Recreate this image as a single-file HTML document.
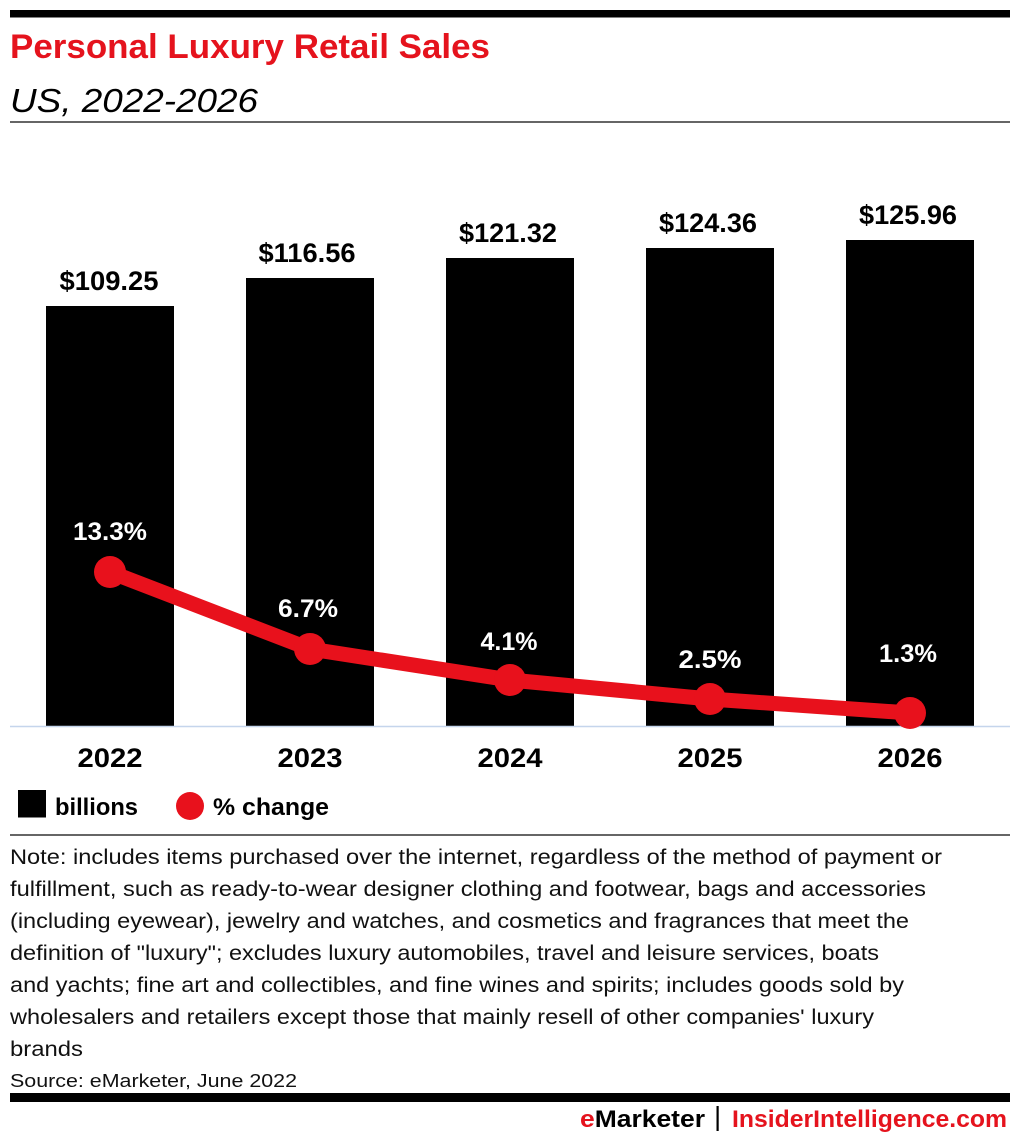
<!DOCTYPE html>
<html><head><meta charset="utf-8"><style>
html,body{margin:0;padding:0;background:#fff;}
svg{display:block;}
text{font-family:"Liberation Sans",Arial,sans-serif;}
</style></head><body>
<svg width="1020" height="1144" viewBox="0 0 1020 1144" xmlns="http://www.w3.org/2000/svg">
<rect x="10" y="10" width="1000" height="7.5" fill="#000"/>
<text x="10" y="58" font-size="34" font-weight="bold" fill="#e5131d" textLength="480" lengthAdjust="spacingAndGlyphs">Personal Luxury Retail Sales</text>
<text x="10" y="112" font-size="33" font-style="italic" fill="#000" textLength="248" lengthAdjust="spacingAndGlyphs">US, 2022-2026</text>
<rect x="10" y="121" width="1000" height="2" fill="#666"/>

<!-- bars -->
<rect x="46" y="306" width="128" height="420" fill="#000"/>
<rect x="246" y="278" width="128" height="448" fill="#000"/>
<rect x="446" y="258" width="128" height="468" fill="#000"/>
<rect x="646" y="248" width="128" height="478" fill="#000"/>
<rect x="846" y="240" width="128" height="486" fill="#000"/>

<g font-size="27" font-weight="bold" fill="#000" text-anchor="middle">
<text x="109" y="290" textLength="99" lengthAdjust="spacingAndGlyphs">$109.25</text>
<text x="307" y="262" textLength="97" lengthAdjust="spacingAndGlyphs">$116.56</text>
<text x="508" y="242" textLength="98" lengthAdjust="spacingAndGlyphs">$121.32</text>
<text x="708" y="232" textLength="98" lengthAdjust="spacingAndGlyphs">$124.36</text>
<text x="908" y="224" textLength="98" lengthAdjust="spacingAndGlyphs">$125.96</text>
</g>

<line x1="10" y1="726.5" x2="1010" y2="726.5" stroke="#c5d5ec" stroke-width="1.5"/>

<!-- line series -->
<polyline points="110,572 310,649 510,680 710,699 910,713" fill="none" stroke="#e8111c" stroke-width="15" stroke-linejoin="round"/>
<g fill="#e8111c">
<circle cx="110" cy="572" r="16"/>
<circle cx="310" cy="649" r="16"/>
<circle cx="510" cy="680" r="16"/>
<circle cx="710" cy="699" r="16"/>
<circle cx="910" cy="713" r="16"/>
</g>
<g font-size="25" font-weight="bold" fill="#fff" text-anchor="middle">
<text x="110" y="540" textLength="74" lengthAdjust="spacingAndGlyphs">13.3%</text>
<text x="308" y="617" textLength="60" lengthAdjust="spacingAndGlyphs">6.7%</text>
<text x="509" y="650" textLength="57" lengthAdjust="spacingAndGlyphs">4.1%</text>
<text x="710" y="668" textLength="63" lengthAdjust="spacingAndGlyphs">2.5%</text>
<text x="908" y="662" textLength="58" lengthAdjust="spacingAndGlyphs">1.3%</text>
</g>

<g font-size="27" font-weight="bold" fill="#000" text-anchor="middle">
<text x="110" y="767" textLength="65" lengthAdjust="spacingAndGlyphs">2022</text>
<text x="310" y="767" textLength="65" lengthAdjust="spacingAndGlyphs">2023</text>
<text x="510" y="767" textLength="65" lengthAdjust="spacingAndGlyphs">2024</text>
<text x="710" y="767" textLength="65" lengthAdjust="spacingAndGlyphs">2025</text>
<text x="910" y="767" textLength="65" lengthAdjust="spacingAndGlyphs">2026</text>
</g>

<!-- legend -->
<rect x="18" y="790" width="28" height="27.5" fill="#000"/>
<text x="55" y="815" font-size="24" font-weight="bold" fill="#000" textLength="83" lengthAdjust="spacingAndGlyphs">billions</text>
<circle cx="190" cy="806" r="14" fill="#e8111c"/>
<text x="213" y="815" font-size="24" font-weight="bold" fill="#000" textLength="116" lengthAdjust="spacingAndGlyphs">% change</text>

<rect x="10" y="834" width="1000" height="2" fill="#666"/>

<g font-size="21" fill="#111">
<text x="10" y="864" textLength="932" lengthAdjust="spacingAndGlyphs">Note: includes items purchased over the internet, regardless of the method of payment or</text>
<text x="10" y="896" textLength="916" lengthAdjust="spacingAndGlyphs">fulfillment, such as ready-to-wear designer clothing and footwear, bags and accessories</text>
<text x="10" y="928" textLength="899" lengthAdjust="spacingAndGlyphs">(including eyewear), jewelry and watches, and cosmetics and fragrances that meet the</text>
<text x="10" y="960" textLength="869" lengthAdjust="spacingAndGlyphs">definition of "luxury"; excludes luxury automobiles, travel and leisure services, boats</text>
<text x="10" y="992" textLength="894" lengthAdjust="spacingAndGlyphs">and yachts; fine art and collectibles, and fine wines and spirits; includes goods sold by</text>
<text x="10" y="1024" textLength="864" lengthAdjust="spacingAndGlyphs">wholesalers and retailers except those that mainly resell of other companies' luxury</text>
<text x="10" y="1056" textLength="73" lengthAdjust="spacingAndGlyphs">brands</text>
</g>
<text x="10" y="1087" font-size="18" fill="#111" textLength="287" lengthAdjust="spacingAndGlyphs">Source: eMarketer, June 2022</text>

<rect x="10" y="1093" width="1000" height="9" fill="#000"/>
<text x="580" y="1127" font-size="24" font-weight="bold" textLength="125" lengthAdjust="spacingAndGlyphs"><tspan fill="#e5131d">e</tspan><tspan fill="#000">Marketer</tspan></text>
<rect x="716.5" y="1106" width="2.2" height="25" fill="#000"/>
<text x="732" y="1127" font-size="24" font-weight="bold" fill="#e5131d" textLength="275" lengthAdjust="spacingAndGlyphs">InsiderIntelligence.com</text>
</svg>
</body></html>
